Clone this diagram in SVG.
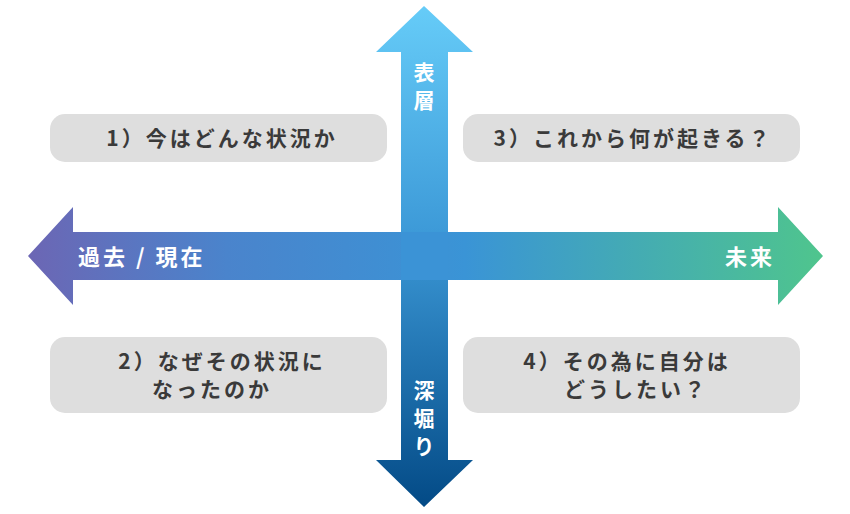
<svg xmlns="http://www.w3.org/2000/svg" width="850" height="514" viewBox="0 0 850 514">
<style>
.box{fill:#dedede}
.bt{font-family:"Noto Sans CJK JP","Noto Sans",sans-serif;font-weight:bold;font-size:21px;letter-spacing:3px;fill:#3a3a3a;text-anchor:middle}
.at{font-family:"Noto Sans CJK JP","Noto Sans",sans-serif;font-weight:bold;font-size:22px;letter-spacing:3px;fill:#fff}
.vt{font-family:"Noto Sans CJK JP","Noto Sans",sans-serif;font-weight:bold;font-size:21px;fill:#fff;text-anchor:middle}
</style>
<defs>
<linearGradient id="hg" x1="28" y1="0" x2="823" y2="0" gradientUnits="userSpaceOnUse">
<stop offset="0" stop-color="#6c66b4"/><stop offset="0.25" stop-color="#4a84cc"/><stop offset="0.55" stop-color="#3a94d6"/><stop offset="1" stop-color="#4fc58d"/>
</linearGradient>
<linearGradient id="vg" x1="0" y1="6" x2="0" y2="507" gradientUnits="userSpaceOnUse">
<stop offset="0" stop-color="#66ccf8"/><stop offset="0.45" stop-color="#3d9ad8"/><stop offset="1" stop-color="#034a86"/>
</linearGradient>
</defs>
<g id="connectors">
<path d="M401 52 H376 L424 6 L473 52 H448 V460 H473 L424 507 L376 460 H401 Z" fill="url(#vg)"/>
<path d="M73 232 V207 L28 256 L73 305 V280 H778 V305 L823 256 L778 207 V232 Z" fill="url(#hg)"/>
<rect x="401" y="232" width="47" height="48" fill="#3b93d6"/>
</g>
<text class="at" x="78" y="265">過去 / 現在</text>
<text class="at" x="775" y="265" text-anchor="end">未来</text>
<text class="vt" x="424" y="80">表</text>
<text class="vt" x="424" y="108">層</text>
<text class="vt" x="424" y="398">深</text>
<text class="vt" x="424" y="426">堀</text>
<text class="vt" x="424" y="454">り</text>
<g id="n1"><rect class="box" x="50" y="114" width="337" height="48" rx="15"/><text class="bt" x="222" y="146">1）今はどんな状況か</text></g>
<g id="n3"><rect class="box" x="463" y="114" width="337" height="48" rx="15"/><text class="bt" x="633" y="146">3）これから何が起きる？</text></g>
<g id="n2"><rect class="box" x="50" y="337" width="337" height="76" rx="15"/><text class="bt" x="222" y="369">2）なぜその状況に</text><text class="bt" x="212" y="397">なったのか</text></g>
<g id="n4"><rect class="box" x="463" y="337" width="337" height="76" rx="15"/><text class="bt" x="627" y="369">4）その為に自分は</text><text class="bt" x="636" y="397">どうしたい？</text></g>
</svg>
